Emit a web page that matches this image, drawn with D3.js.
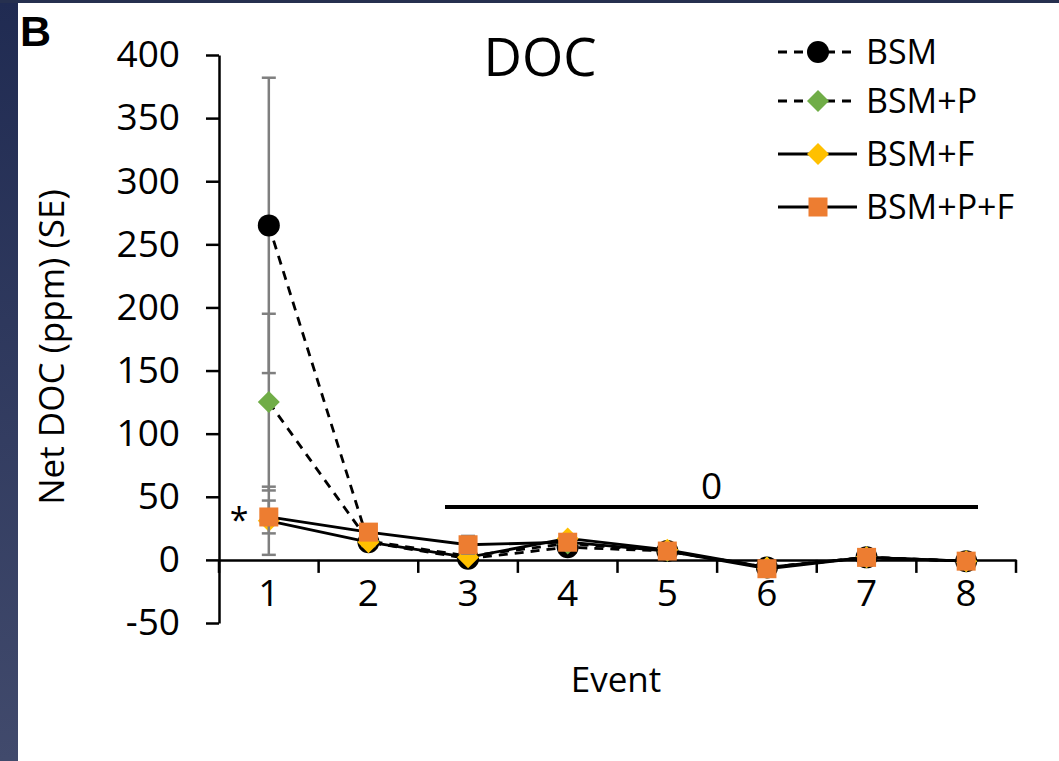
<!DOCTYPE html>
<html>
<head>
<meta charset="utf-8">
<script src="https://cdn.jsdelivr.net/npm/d3@7"></script>
<style>
  html, body { margin: 0; padding: 0; background: #fff; }
  svg { display: block; font-family: "Open Sans", "Noto Sans", sans-serif; }
</style>
</head>
<body>
<svg id="chart" width="1059" height="761"></svg>
<script>
// Net DOC per leaching event for four treatments
const events = [1, 2, 3, 4, 5, 6, 7, 8];
const yTicks = [-50, 0, 50, 100, 150, 200, 250, 300, 350, 400];

const seriesNames = ["BSM", "BSM+P", "BSM+F", "BSM+P+F"];
const bsm      = [265, 14, 1, 10, 7, -6, 2, -1];
const bsmP     = [125, 15, 3, 13, 7, -6, 2, -1];
const bsmF     = [31, 14, 2, 17, 8, -6, 2, -1];
const bsmPF    = [34, 22, 12, 14, 7, -7, 2, -1];

const bsmSE    = [117, 3, 2, 3, 2, 2, 2, 1];
const bsmPSE   = [70, 3, 2, 3, 2, 2, 2, 1];
const bsmFSE   = [27, 3, 2, 3, 2, 2, 2, 1];
const bsmPFSE  = [13, 3, 7, 3, 2, 2, 2, 1];

// significance bar spanning events 3–8
const sigLabel = "0";

const svg = d3.select("#chart");
const W = 1059, H = 761;

// frame: dark band on the left and a thin strip on top
const grad = svg.append("defs").append("linearGradient")
  .attr("id", "band").attr("x1", 0).attr("y1", 0).attr("x2", 0).attr("y2", 1);
grad.append("stop").attr("offset", "0%").attr("stop-color", "#202b52");
grad.append("stop").attr("offset", "100%").attr("stop-color", "#414a6c");
svg.append("rect").attr("x", 0).attr("y", 0).attr("width", 18).attr("height", H).attr("fill", "url(#band)");
svg.append("rect").attr("x", 0).attr("y", 0).attr("width", W).attr("height", 3).attr("fill", "#26304f");

const x = d3.scaleBand().domain(events).range([219, 1016]).padding(0);
const y = d3.scaleLinear().domain([-50, 400]).range([623, 55]);
const cx = d => x(d) + x.bandwidth() / 2;

// y axis
const yAxis = svg.append("g").attr("transform", "translate(219,0)")
  .call(d3.axisLeft(y).tickValues(yTicks).tickFormat(d => String(d))
    .tickSize(13).tickPadding(10).tickSizeOuter(0));
yAxis.select(".domain").attr("stroke", "#000").attr("stroke-width", 2.5);
yAxis.selectAll(".tick line").attr("stroke", "#000").attr("stroke-width", 2.5);
yAxis.selectAll(".tick text").attr("font-size", 37).attr("fill", "#000")
  .attr("font-family", "Open Sans").attr("dx", -16);

// x axis along zero
const xAxis = svg.append("g").attr("transform", `translate(0,${y(0)})`)
  .call(d3.axisBottom(x).tickSize(0).tickPadding(20));
xAxis.select(".domain").attr("stroke", "#000").attr("stroke-width", 2.5);
xAxis.selectAll(".tick text").attr("font-size", 37).attr("fill", "#000")
  .attr("font-family", "Open Sans");
// tick marks at category boundaries
const boundaries = events.map(e => x(e)).concat([x(events[events.length - 1]) + x.bandwidth()]);
xAxis.selectAll(".bound").data(boundaries).join("line")
  .attr("x1", d => d).attr("x2", d => d).attr("y1", 0).attr("y2", 13)
  .attr("stroke", "#000").attr("stroke-width", 2.5);

// axis titles
svg.append("text").attr("x", 616).attr("y", 692).attr("text-anchor", "middle")
  .attr("font-size", 35).text("Event");
svg.append("text").attr("transform", "translate(64,347) rotate(-90)")
  .attr("text-anchor", "middle").attr("font-size", 35).text("Net DOC (ppm) (SE)");
svg.append("text").attr("x", 540).attr("y", 76).attr("text-anchor", "middle")
  .attr("font-size", 53).text("DOC");
svg.append("text").attr("x", 20).attr("y", 46).attr("font-size", 43)
  .attr("font-weight", "bold").attr("font-family", "Liberation Sans").text("B");

// significance bar and labels
svg.append("line").attr("x1", 445).attr("x2", 978)
  .attr("y1", 507).attr("y2", 507).attr("stroke", "#000").attr("stroke-width", 4);
svg.append("text").attr("x", (445 + 978) / 2).attr("y", 499).attr("text-anchor", "middle")
  .attr("font-size", 37).text(sigLabel);
svg.append("text").attr("x", 239).attr("y", 532).attr("text-anchor", "middle")
  .attr("font-size", 34).text("*");

const series = [
  { name: seriesNames[0], values: bsm,   se: bsmSE,   dash: "9,7", shape: "circle",  color: "#000000" },
  { name: seriesNames[1], values: bsmP,  se: bsmPSE,  dash: "9,7", shape: "diamond", color: "#70ad47" },
  { name: seriesNames[2], values: bsmF,  se: bsmFSE,  dash: null,  shape: "diamond", color: "#ffc000" },
  { name: seriesNames[3], values: bsmPF, se: bsmPFSE, dash: null,  shape: "square",  color: "#ed7d31" }
];

function marker(g, s, px, py) {
  if (s.shape === "circle") {
    g.append("circle").attr("cx", px).attr("cy", py).attr("r", 11).attr("fill", s.color);
  } else if (s.shape === "diamond") {
    const r = 11;
    g.append("path").attr("d", `M${px},${py - r}L${px + r},${py}L${px},${py + r}L${px - r},${py}Z`)
      .attr("fill", s.color);
  } else {
    g.append("rect").attr("x", px - 9.5).attr("y", py - 9.5).attr("width", 19).attr("height", 19)
      .attr("fill", s.color);
  }
}

const line = d3.line().x((d, i) => cx(events[i])).y(d => y(d));

series.forEach(s => {
  const g = svg.append("g");
  // error bars
  s.values.forEach((v, i) => {
    const px = cx(events[i]);
    const lo = y(v - s.se[i]), hi = y(v + s.se[i]);
    g.append("line").attr("x1", px).attr("x2", px).attr("y1", lo).attr("y2", hi)
      .attr("stroke", "#7f7f7f").attr("stroke-width", 2.5);
    [lo, hi].forEach(yy => g.append("line").attr("x1", px - 7).attr("x2", px + 7)
      .attr("y1", yy).attr("y2", yy).attr("stroke", "#7f7f7f").attr("stroke-width", 2.5));
  });
  g.append("path").attr("d", line(s.values)).attr("fill", "none")
    .attr("stroke", "#000").attr("stroke-width", 2.8)
    .attr("stroke-dasharray", s.dash);
  s.values.forEach((v, i) => marker(g, s, cx(events[i]), y(v)));
});

// legend
const legY = [52, 101, 154, 207];
series.forEach((s, i) => {
  const g = svg.append("g").attr("transform", `translate(0,${legY[i]})`);
  g.append("line").attr("x1", 778).attr("x2", 857).attr("y1", 0).attr("y2", 0)
    .attr("stroke", "#000").attr("stroke-width", 2.8)
    .attr("stroke-dasharray", s.dash ? "9,7" : null);
  marker(g, s, 818, 0);
  g.append("text").attr("x", 866).attr("y", 0).attr("dy", "0.35em")
    .attr("font-size", 34).text(s.name);
});
</script>
</body>
</html>
